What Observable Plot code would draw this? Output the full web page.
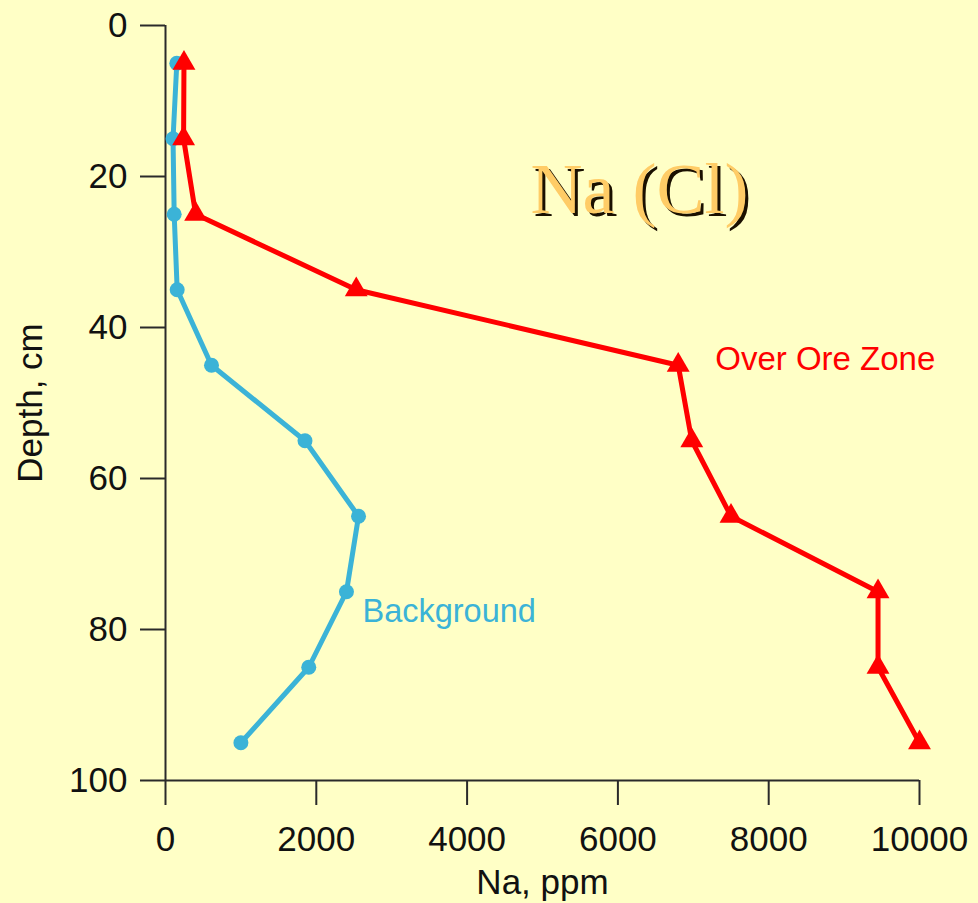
<!DOCTYPE html>
<html>
<head>
<meta charset="utf-8">
<script src="https://cdn.jsdelivr.net/npm/d3@7"></script>
<script src="https://cdn.jsdelivr.net/npm/@observablehq/plot@0.6"></script>
<style>
  html, body { margin: 0; padding: 0; background: #FFFFC6; }
  #chart svg { display: block; }
  #chart g[fill="#FFCC66"] text { filter: drop-shadow(3px 3px 0.5px #1a1000); }
</style>
</head>
<body>
<div id="chart"></div>
<script>
const depths = [5, 15, 25, 35, 45, 55, 65, 75, 85, 95];
const background = [150, 100, 115, 155, 610, 1850, 2560, 2400, 1900, 1000];
const overOre = [245, 240, 400, 2530, 6800, 6980, 7500, 9450, 9450, 10000];
const xTicks = [0, 2000, 4000, 6000, 8000, 10000];
const yTicks = [0, 20, 40, 60, 80, 100];
const titleText = "Na (Cl)";

const bgData = depths.map((d, i) => ({depth: d, na: background[i]}));
const oreData = depths.map((d, i) => ({depth: d, na: overOre[i]}));

const RED = "#FF0000";
const BLUE = "#3BB3D7";
const AXIS = "#2a2a2a";
const FONT = "'Liberation Sans', Arial, sans-serif";

const chart = Plot.plot({
  width: 978,
  height: 903,
  marginLeft: 165,
  marginRight: 59,
  marginTop: 25,
  marginBottom: 123,
  style: {background: "#FFFFC6", fontFamily: FONT, color: "#111", overflow: "visible"},
  x: {domain: [0, 10000]},
  y: {domain: [0, 100], reverse: true},
  marks: [
    Plot.axisX({ticks: xTicks, tickSize: 25, tickPadding: 21, fontSize: 35, stroke: AXIS, strokeWidth: 2,
      tickFormat: d => String(d), label: "Na, ppm", labelAnchor: "center", labelArrow: "none", labelOffset: 113}),
    Plot.axisY({ticks: yTicks, tickSize: 25, tickPadding: 13, fontSize: 35, stroke: AXIS, strokeWidth: 2,
      tickFormat: d => String(d), label: "Depth, cm", labelAnchor: "center", labelArrow: "none", labelOffset: 148}),
    Plot.ruleX([0], {stroke: AXIS, strokeWidth: 2}),
    Plot.ruleY([100], {stroke: AXIS, strokeWidth: 2}),
    Plot.line(bgData, {x: "na", y: "depth", stroke: BLUE, strokeWidth: 5}),
    Plot.line(oreData, {x: "na", y: "depth", stroke: RED, strokeWidth: 5}),
    Plot.dot(bgData, {x: "na", y: "depth", fill: BLUE, r: 7.5, symbol: "circle"}),
    Plot.dot(oreData, {x: "na", y: "depth", fill: RED, r: 8.5, symbol: "triangle"}),
    Plot.text(oreData.filter(d => d.depth === 45), {x: "na", y: "depth", text: () => "Over Ore Zone",
      fill: RED, fontSize: 33, textAnchor: "start", dx: 37, dy: -6, fontFamily: FONT}),
    Plot.text(bgData.filter(d => d.depth === 75), {x: "na", y: "depth", text: () => "Background",
      fill: BLUE, fontSize: 32.5, textAnchor: "start", dx: 16, dy: 20, fontFamily: FONT}),
    Plot.text([titleText], {frameAnchor: "top", text: d => d, fill: "#FFCC66", fontSize: 72,
      fontFamily: "'Liberation Serif', 'Times New Roman', serif", lineAnchor: "bottom", dx: 97, dy: 187})
  ]
});
document.getElementById("chart").appendChild(chart);
</script>
</body>
</html>
